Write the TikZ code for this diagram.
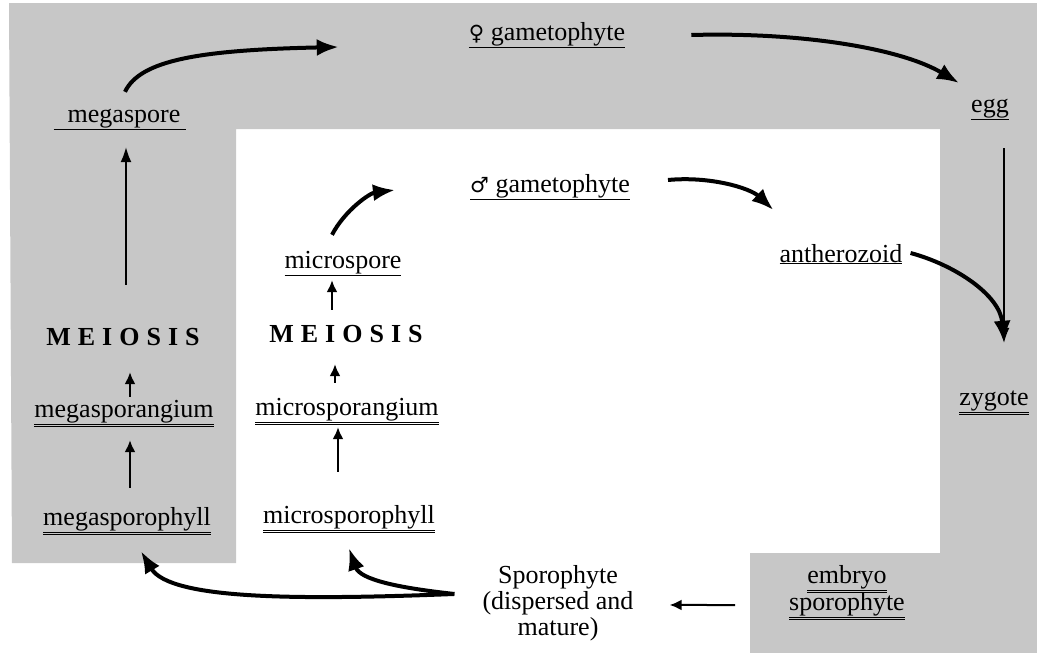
\documentclass[tikz,border=0pt]{standalone}
\usepackage{fontspec}
\setmainfont{Liberation Serif}
\newfontfamily\symfont{DejaVu Sans}
\newfontfamily\spacedfont[LetterSpace=27]{Liberation Serif}
\usetikzlibrary{arrows.meta}

\begin{document}
\begin{tikzpicture}[x=1pt,y=-1pt,font=\fontsize{26}{26}\selectfont]
  %----- styles
  \tikzset{
    word/.style     ={inner sep=2pt,text height=18pt,text depth=8pt,anchor=base},
    meio/.style     ={inner sep=2pt,text height=18pt,text depth=8pt,anchor=base,
                      font=\fontsize{26}{26}\selectfont\spacedfont\bfseries},
    greyzone/.style ={fill=black!22,draw=none},
    bigarrow/.style ={-{Latex[length=22pt,width=17pt]},line width=4pt},
    slimarrow/.style={-{Latex[length=12pt,width=11pt]},line width=2pt},
    longarrow/.style={-{Latex[length=15pt,width=11pt]},line width=1.5pt}
  }
  \useasboundingbox (0,0) rectangle (1037,653);

  %----- shaded frame
  \fill[greyzone] (9,3) -- (1037,3) -- (1037,653) -- (750,653) -- (750,553)
    -- (940,553) -- (940,129) -- (236,129) -- (236,563) -- (12,563) -- cycle;

  %----- nodes
  % female side (left column and top)
  \node[word] (megaspore) at (120,122) {\underline{\hspace{14pt}megaspore\hspace{6pt}}};
  \node[word] (fgam) at (547,40) {\underline{{\symfont\fontsize{21}{21}\selectfont ♀} gametophyte}};
  \node[word] (egg)  at (990,112) {\underline{egg}};
  \node[meio] (meioL) at (123,345) {MEIOSIS};
  \node[word] (megasporangium) at (124,417) {\underline{\underline{megasporangium}}};
  \node[word] (megasporophyll) at (127,525) {\underline{\underline{megasporophyll}}};

  % male side (inner column)
  \node[word] (mgam) at (550,192) {\underline{{\symfont\fontsize{21}{21}\selectfont ♂} gametophyte}};
  \node[word] (microspore)  at (343,268) {\underline{microspore}};
  \node[word] (antherozoid) at (841,262) {\underline{antherozoid}};
  \node[meio] (meioR) at (346,342) {MEIOSIS};
  \node[word] (microsporangium) at (347,415) {\underline{\underline{microsporangium}}};
  \node[word] (microsporophyll) at (349,523) {\underline{\underline{microsporophyll}}};

  % right column and bottom
  \node[word] (zygote)   at (994,405) {\underline{\underline{zygote}}};
  \node[word] (embryo)   at (847,583) {\underline{\underline{embryo}}};
  \node[word] (embryosp) at (847,610) {\underline{\underline{sporophyte}}};
  \node[inner sep=2pt,align=center,anchor=north] (sporophyte) at (558,563)
    {Sporophyte\\(dispersed and\\mature)};

  %----- connections
  % female line
  \draw[bigarrow] ([shift={(5,-10)}]megaspore.north) .. controls (140,60) and (200,50) .. ([shift={(-128,12)}]fgam.west);
  \draw[bigarrow] ([shift={(64,0)}]fgam.east) .. controls (800,32) and (900,48) .. ([shift={(-10,-24)}]egg.west);
  \draw[longarrow] ([shift={(14,26)}]egg.south) -- ([shift={(10,-42)}]zygote.north);
  \draw[slimarrow] ([shift={(3,-17)}]megasporophyll.north) -- ([shift={(6,13)}]megasporangium.south);
  \draw[slimarrow] ([shift={(6,0)}]megasporangium.north) -- ([shift={(7,17)}]meioL.south);
  \draw[longarrow] ([shift={(3,-40)}]meioL.north) -- ([shift={(6,15)}]megaspore.south);

  % male line
  \draw[slimarrow] ([shift={(-11,-31)}]microsporophyll.north) -- ([shift={(-9,2)}]microsporangium.south);
  \draw[slimarrow] ([shift={(-12,-12)}]microsporangium.north) -- ([shift={(-11,12)}]meioR.south);
  \draw[slimarrow] ([shift={(-14,-12)}]meioR.north) -- ([shift={(-11,2)}]microspore.south);
  \draw[bigarrow] ([shift={(-11,-13)}]microspore.north) .. controls (345,210) and (370,193) .. ([shift={(-73,3)}]mgam.west);
  \draw[bigarrow] ([shift={(36,-7)}]mgam.east) .. controls (710,176) and (750,188) .. ([shift={(-4,-47)}]antherozoid.west);
  \draw[bigarrow] ([shift={(6,-4)}]antherozoid.east) .. controls (955,265) and (1000,295) .. ([shift={(10,-42)}]zygote.north);

  % sporophyte back to the sporophylls
  \draw[slimarrow] ([shift={(-52,0)}]embryosp.west) -- ([shift={(34,2)}]sporophyte.east);
  \draw[bigarrow] ([shift={(-26,-9)}]sporophyte.west) .. controls (400,588) and (360,580) .. ([shift={(0,15)}]microsporophyll.south);
  \draw[bigarrow] ([shift={(-26,-9)}]sporophyte.west) .. controls (300,600) and (170,600) .. ([shift={(14,16)}]megasporophyll.south);
\end{tikzpicture}
\end{document}
